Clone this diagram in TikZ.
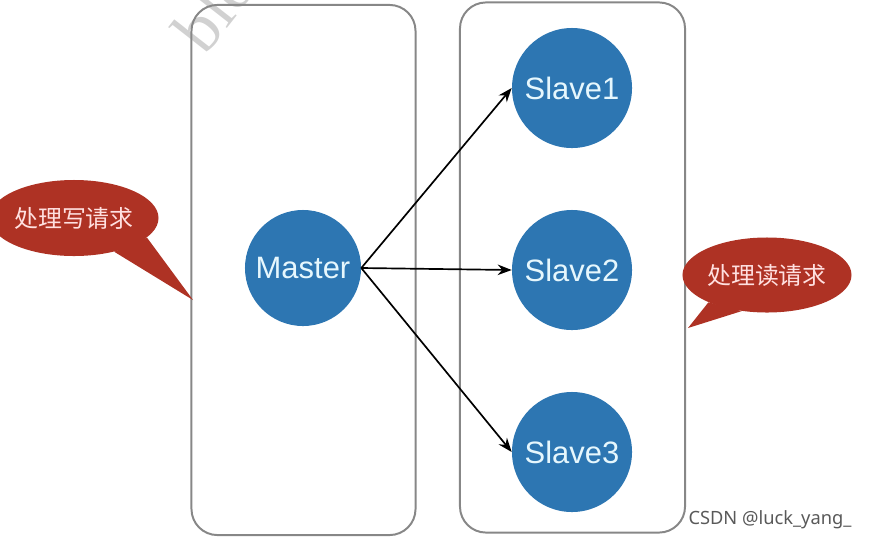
\documentclass[tikz,border=0pt]{standalone}
\usepackage{fontspec}
\setmainfont{Liberation Sans}
\newfontfamily\cjk{Noto Sans CJK SC}
\newfontfamily\wmfont{Liberation Serif}
\newfontfamily\csdnfont{Noto Sans}
\usepackage{xcolor}
\usetikzlibrary{shapes.geometric, arrows.meta}
\definecolor{nodeblue}{RGB}{45,118,178}
\definecolor{bubred}{RGB}{174,50,36}
\definecolor{panelgray}{RGB}{135,135,135}

\begin{document}
\begin{tikzpicture}[x=0.025cm, y=-0.025cm,
  panel/.style={draw=panelgray, line width=1.4pt, rounded corners=0.65cm, minimum width=5.6cm, minimum height=13.25cm},
  ball/.style={circle, fill=nodeblue, text=white!90!cyan, minimum size=3cm, inner sep=0pt, font=\fontsize{22}{24}\selectfont},
  bubble/.style={ellipse, fill=bubred, text=white!88!red, inner sep=0pt, font=\cjk\fontsize{17}{20}\selectfont},
  arr/.style={-{Stealth[length=10pt, width=7.5pt]}, line width=1.2pt}]
\useasboundingbox (0,0) rectangle (869,541);
\begin{scope}
\clip (0,0) rectangle (869,541);
\node[text=black!18, font=\wmfont\fontsize{48}{50}\selectfont, rotate=52, anchor=south west] (wm) at (218,72) {blog};
\end{scope}
\node[panel] (mpanel) at (303.5,270) {};
\node[panel, minimum width=5.625cm] (spanel) at (572.5,267.5) {};
\node[ball, minimum size=2.9cm] (master) at (303,268) {Master};
\node[ball] (s1) at (572,88) {Slave1};
\node[ball] (s2) at (572,270) {Slave2};
\node[ball] (s3) at (572,452) {Slave3};
\draw[arr] (master.east) -- (s1.west);
\draw[arr] (master.east) -- (s2.west);
\draw[arr] (master.east) -- (s3.west);
\node[bubble, minimum width=3.7cm, minimum height=1.9cm] (wbub) at (74,218) {处理写请求};
\coordinate (wtip) at (193,300);
\fill[bubred] (wbub.-40) -- (wtip) -- (wbub.-15) -- cycle;
\node[bubble, minimum width=4cm, minimum height=1.875cm] (rbub) at (767,275) {处理读请求};
\coordinate (rtip) at (688,328);
\fill[bubred] (rbub.-155) -- (rtip) -- (rbub.-125) -- cycle;
\node[text=black!65, font=\csdnfont\fontsize{13}{15}\selectfont] (csdn) at (770,520) {CSDN @luck\_yang\_};
\end{tikzpicture}
\end{document}
